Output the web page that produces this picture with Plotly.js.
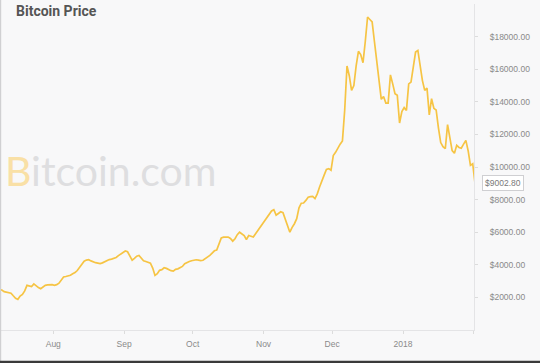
<!DOCTYPE html>
<html>
<head>
<meta charset="utf-8">
<script src="https://cdn.plot.ly/plotly-3.0.1.min.js"></script>
<style>
html,body{margin:0;padding:0;background:#f8f8f9;}
#chart{width:540px;height:363px;}
</style>
</head>
<body>
<div id="chart"></div>
<script>
// Daily prices (USD), 2017-07-08 .. 2018-02-01
const startDate = '2017-07-08';
const julPrices = [2480,2450,2350,2320,2300,2260,2100,1950,1880,2080,2180,2400,2740,2700,2670,2830,2700,2600,2530,2650,2740,2770,2790,2780];
const augPrices = [2740,2780,2870,3050,3250,3280,3310,3360,3450,3520,3650,3830,4000,4220,4290,4310,4240,4170,4130,4100,4070,4120,4200,4270,4320,4350,4400,4450,4560,4650,4750];
const sepPrices = [4850,4800,4550,4280,4400,4530,4570,4400,4250,4200,4150,4100,3800,3350,3450,3660,3700,3820,3780,3700,3640,3610,3720,3750,3820,3900,4070,4150,4200,4250];
const octPrices = [4300,4310,4290,4260,4280,4380,4450,4580,4720,4860,4900,5300,5650,5700,5680,5700,5620,5450,5600,5850,6000,5920,5800,5550,5800,5750,5700,5900,6100,6300,6500];
const novPrices = [6650,6850,7100,7300,7380,7050,7150,7250,7200,6800,6400,6000,6300,6520,6830,7500,7780,7790,7950,8150,8180,8200,8060,8350,8770,9180,9500,9850,9900,9800];
const decPrices = [10700,10900,11200,11400,11600,13500,16200,15600,14700,15000,16200,17100,16900,16400,17700,19200,19050,18900,17700,16400,15300,14150,14330,13920,13920,15650,15100,14500,14400,12700,13400];
const janPrices = [13650,13470,15100,15210,16000,17050,17150,16130,15300,14700,14840,13200,14190,13600,13500,12400,11500,11250,11120,12600,11900,11000,10850,11330,11200,11150,11400,11630,11000,10100,10200];
const febPrices = [9002.80];

const currentPrice = 9002.80;
const tickDates = ['2017-08-01','2017-09-01','2017-10-01','2017-11-01','2017-12-01','2018-01-01','2018-02-01'];
const tickLabels = ['Aug','Sep','Oct','Nov','Dec','2018',''];
const priceTicks = [2000,4000,6000,8000,10000,12000,14000,16000,18000];
const priceTickLabels = priceTicks.map(v => '$' + v.toFixed(2));

const prices = [].concat(julPrices, augPrices, sepPrices, octPrices, novPrices, decPrices, janPrices, febPrices);
const dates = [];
{
  const d0 = new Date(startDate + 'T12:00:00Z');
  for (let i = 0; i < prices.length; i++) {
    const d = new Date(d0.getTime() + i * 86400000);
    dates.push(d.toISOString().slice(0,10) + ' 12:00');
  }
}

const trace = {
  x: dates, y: prices, type: 'scatter', mode: 'lines',
  line: {color: '#f6c444', width: 1.7},
  hoverinfo: 'skip'
};

const W = 474, H = 326; // plot area size
const layout = {
  width: 540, height: 363,
  margin: {l: 0, r: 66, t: 4, b: 33},
  paper_bgcolor: '#f8f8f9', plot_bgcolor: '#f8f8f9',
  showlegend: false,
  title: {
    text: '<b>Bitcoin Price</b>',
    font: {family: 'Roboto', size: 14, color: '#555555'},
    xref: 'container', x: 16/540, xanchor: 'left',
    yref: 'container', y: 1 - 11/363, yanchor: 'middle'
  },
  xaxis: {
    type: 'date',
    range: ['2017-07-08 16:36', '2018-02-01 01:30'],
    tickvals: tickDates, ticktext: tickLabels,
    showgrid: false, zeroline: false,
    showline: true, linecolor: '#e4e4e6', linewidth: 1,
    ticks: 'outside', ticklen: 3, tickcolor: '#dcdcdc',
    tickfont: {family: 'Liberation Sans', size: 8.5, color: '#8a8a8a'},
    ticklabelstandoff: 3,
    fixedrange: true
  },
  yaxis: {
    side: 'right',
    range: [0, 20000],
    tickvals: priceTicks, ticktext: priceTickLabels,
    showgrid: false, zeroline: false,
    showline: true, linecolor: '#e4e4e6', linewidth: 1,
    ticks: 'outside', ticklen: 3, tickcolor: '#dcdcdc',
    tickfont: {family: 'Liberation Sans', size: 8.5, color: '#8a8a8a'},
    ticklabelstandoff: 10,
    fixedrange: true
  },
  annotations: [
    {
      xref: 'paper', yref: 'paper', x: 3/W, y: (330-171)/H,
      xanchor: 'left', yanchor: 'middle', showarrow: false,
      text: '<span style="color:#f9e0a6">B</span>itcoin.com',
      font: {family: 'Lato', size: 41, color: '#dedee0'}
    },
    {
      xref: 'paper', yref: 'y', x: 1, y: currentPrice,
      xanchor: 'left', yanchor: 'middle', xshift: 8, showarrow: false,
      text: '$' + currentPrice.toFixed(2),
      font: {family: 'Liberation Sans', size: 8.5, color: '#7a7a7a'},
      bgcolor: '#ffffff', bordercolor: '#cfcfd2', borderwidth: 1, borderpad: 2
    }
  ],
  shapes: [
    {type: 'line', xref: 'paper', yref: 'paper', x0: 0.6/W, x1: 0.6/W, y0: -0.2, y1: 1.05,
     line: {color: '#d0d0d2', width: 1.2}, layer: 'above'},
    {type: 'rect', xref: 'paper', yref: 'paper', x0: 0, x1: 540/W, y0: -0.15, y1: -(360.8-330)/H,
     fillcolor: '#3a3a3a', line: {width: 0}, layer: 'above'}
  ]
};

Plotly.newPlot('chart', [trace], layout, {displayModeBar: false, staticPlot: true});
</script>
</body>
</html>
